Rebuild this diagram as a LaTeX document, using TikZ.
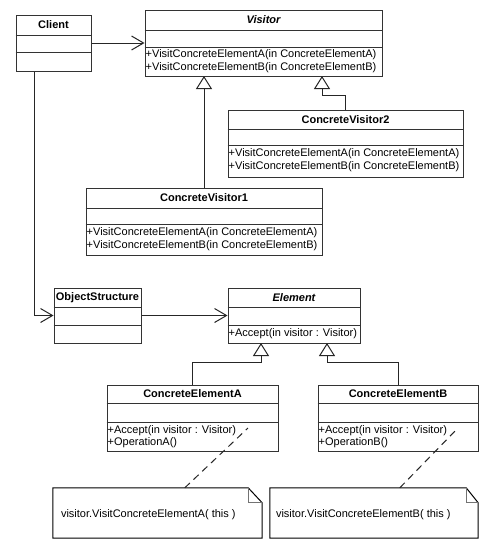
\documentclass[tikz,border=0pt]{standalone}
\usepackage{fontspec}
\setmainfont{Liberation Sans}
\usetikzlibrary{arrows.meta,calc}
\tikzset{
  cls/.style={draw=black!80, line width=1pt, fill=white, inner sep=0pt, rectangle},
  sepline/.style={draw=black!80, line width=1pt},
  ttl/.style={font=\fontsize{11}{13}\selectfont\bfseries, inner sep=0pt},
  ittl/.style={font=\fontsize{11}{13}\selectfont\bfseries\itshape, inner sep=0pt},
  meth/.style={font=\fontsize{11}{13}\selectfont, inner sep=0pt, anchor=west},
  assoc/.style={draw=black!85, line width=1pt, -{Straight Barb[length=12pt,width=14pt,line width=1pt]}},
  gen/.style={draw=black!85, line width=1pt, -{Triangle[open,length=13pt,width=16pt,line width=1pt,fill=white]}},
  notelink/.style={draw=black!85, line width=1pt, dash pattern=on 7pt off 5pt},
  notebox/.style={inner sep=0pt, rectangle},
  notetext/.style={font=\fontsize{11}{13}\selectfont, inner sep=0pt, anchor=west},
}
% #1 name, #2 x, #3 y, #4 width, #5 title height, #6 attribute height, #7 total height, #8 title style, #9 title
\newcommand\uclass[9]{%
  \node[cls, minimum width=#4pt, minimum height=#7pt] (#1) at ({#2+#4/2},{#3+#7/2}) {};
  \draw[sepline] ($(#1.north west)+(0,#5)$) -- ($(#1.north east)+(0,#5)$);
  \draw[sepline] ($(#1.north west)+(0,#5+#6)$) -- ($(#1.north east)+(0,#5+#6)$);
  \node[#8] (#1-t) at ($(#1.north)+(0,#5/2)$) {#9};
}
\begin{document}
\begin{tikzpicture}[x=1pt,y=-1pt]
\useasboundingbox[fill=white] (0,0) rectangle (501,554);

\uclass{client}{16}{15}{75}{21}{17}{56}{ttl}{Client}
\uclass{visitor}{145}{10}{237}{21}{17}{66}{ittl}{Visitor}
\node[meth] (visitor-m1) at ($(visitor.north west)+(1,45)$) {+VisitConcreteElementA(in ConcreteElementA)};
\node[meth] (visitor-m2) at ($(visitor.north west)+(1,58.5)$) {+VisitConcreteElementB(in ConcreteElementB)};

\uclass{cv2}{228}{110}{235}{20}{16}{67}{ttl}{ConcreteVisitor2}
\node[meth] (cv2-m1) at ($(cv2.north west)+(1,44)$) {+VisitConcreteElementA(in ConcreteElementA)};
\node[meth] (cv2-m2) at ($(cv2.north west)+(1,57)$) {+VisitConcreteElementB(in ConcreteElementB)};

\uclass{cv1}{86}{188}{236}{21}{16}{67}{ttl}{ConcreteVisitor1}
\node[meth] (cv1-m1) at ($(cv1.north west)+(1,45)$) {+VisitConcreteElementA(in ConcreteElementA)};
\node[meth] (cv1-m2) at ($(cv1.north west)+(1,58)$) {+VisitConcreteElementB(in ConcreteElementB)};

\uclass{os}{54}{288}{87}{20}{18}{55}{ttl}{ObjectStructure}
\uclass{element}{228}{288}{132}{20}{18}{55}{ittl}{Element}
\node[meth] (element-m1) at ($(element.north west)+(1,46)$) {+Accept(in visitor : Visitor)};

\uclass{cea}{107}{385}{171}{19}{19}{66}{ttl}{ConcreteElementA}
\node[meth] (cea-m1) at ($(cea.north west)+(1,46)$) {+Accept(in visitor : Visitor)};
\node[meth] (cea-m2) at ($(cea.north west)+(1,58.5)$) {+OperationA()};

\uclass{ceb}{318}{385}{160}{19}{19}{66}{ttl}{ConcreteElementB}
\node[meth] (ceb-m1) at ($(ceb.north west)+(1,46)$) {+Accept(in visitor : Visitor)};
\node[meth] (ceb-m2) at ($(ceb.north west)+(1,58.5)$) {+OperationB()};

% notes
\node[notebox, minimum width=209pt, minimum height=50pt] (na) at ({53+209/2},{488+25}) {};
\draw[black, line width=1pt] (na.north west) -- ($(na.north east)+(-14,0)$) -- ($(na.north east)+(0,15)$) -- (na.south east) -- (na.south west) -- cycle;
\draw[black!55, line width=1pt] ($(na.north east)+(-14,0)$) -- ($(na.north east)+(-14,15)$) -- ($(na.north east)+(0,15)$);
\node[notetext] (na-t) at ($(na.north west)+(8,27)$) {visitor.VisitConcreteElementA( this )};

\node[notebox, minimum width=208pt, minimum height=50pt] (nb) at ({270+104},{488+25}) {};
\draw[black, line width=1pt] (nb.north west) -- ($(nb.north east)+(-12,0)$) -- ($(nb.north east)+(0,15)$) -- (nb.south east) -- (nb.south west) -- cycle;
\draw[black!55, line width=1pt] ($(nb.north east)+(-12,0)$) -- ($(nb.north east)+(-12,15)$) -- ($(nb.north east)+(0,15)$);
\node[notetext] (nb-t) at ($(nb.north west)+(6,27)$) {visitor.VisitConcreteElementB( this )};

% connectors
\draw[assoc] (client.east) -- (visitor.west);
\draw[assoc] ($(client.south west)+(19,0)$) |- (os.west);
\draw[assoc] (os.east) -- (element.west);

\coordinate (g1) at (204,76);
\coordinate (g2) at (322,76);
\draw[gen] (g1 |- cv1.north) -- (g1);
\draw[gen] (cv2.north) -- ++(0,-14) -| (g2);

\coordinate (e1) at (261,343);
\coordinate (e2) at (327,343);
\draw[gen] (cea.north) -- ++(0,-22) -| (e1);
\draw[gen] (ceb.north) -- ++(0,-22) -| (e2);

\coordinate (la) at (248,428);
\coordinate (lb) at (457,429);
\draw[notelink] ($(na.north west)+(132,0)$) -- (la);
\draw[notelink] ($(nb.north west)+(130,0)$) -- (lb);
\end{tikzpicture}
\end{document}
